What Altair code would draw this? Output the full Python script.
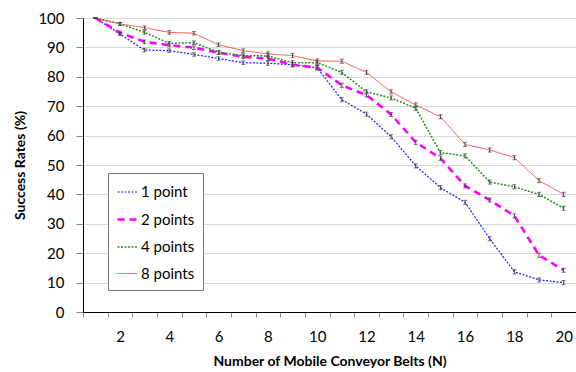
import altair as alt
import pandas as pd

belts = list(range(1, 21))
series_names = ["1 point", "2 points", "4 points", "8 points"]
one_point = [100, 94.5, 89.1, 88.9, 87.6, 86.2, 84.8, 84.6, 84.1, 83.1, 72.2, 67.3, 59.6, 49.7, 42.3, 37.3, 24.9, 13.7, 10.9, 10.0]
two_points = [100, 95.0, 91.9, 90.8, 89.9, 88.2, 86.8, 86.2, 84.1, 83.1, 77.1, 73.8, 67.2, 57.7, 52.3, 42.9, 38.1, 32.7, 19.3, 14.2]
four_points = [100, 98.0, 95.1, 91.4, 91.6, 88.3, 87.2, 87.1, 84.8, 84.8, 81.5, 74.9, 72.8, 69.3, 54.2, 53.1, 44.2, 42.6, 40.0, 35.3]
eight_points = [100, 98.0, 96.7, 95.1, 94.8, 90.9, 88.9, 87.8, 87.2, 85.4, 85.3, 81.5, 74.9, 70.4, 66.4, 57.0, 55.1, 52.5, 44.7, 40.0]
errors = [0.0, 0.5, 0.6, 0.6, 0.6, 0.6, 0.6, 0.7, 0.7, 0.7, 0.7, 0.7, 0.7, 0.7, 0.7, 0.7, 0.7, 0.7, 0.7, 0.7]
x_tick_marks = [i + 0.5 for i in range(0, 21)]
x_labels = list(range(2, 21, 2))
y_ticks = list(range(0, 101, 10))

colors = ["#1a1aff", "#ff00ff", "#1f8f1f", "#ff4d4d"]
dashes = [[2, 1.5], [7, 5], [2, 1.5], [1, 0]]
widths = [1.2, 2.6, 1.5, 1.0]

rows = []
for name, vals in zip(series_names, [one_point, two_points, four_points, eight_points]):
    for n, v, e in zip(belts, vals, errors):
        rows.append({"N": n, "rate": v, "series": name, "lo": v - e, "hi": v + e})
df = pd.DataFrame(rows)

FONT = "Lato"

xscale = alt.Scale(domain=[0.5, 20.5], nice=False, zero=False)
yscale = alt.Scale(domain=[0, 100], nice=False)

xaxis = alt.Axis(
    values=sorted(x_tick_marks + x_labels),
    tickCount=200,
    labelExpr="datum.value % 2 == 0 ? format(datum.value, 'd') : ''",
    tickOpacity={"condition": {"test": "datum.value % 1 != 0", "value": 1}, "value": 0},
    labelOverlap=False,
    title="Number of Mobile Conveyor Belts (N)",
    grid=False,
    domainColor="black",
    tickColor="#888888",
    tickSize=5,
    labelFontSize=15,
    labelPadding=12,
    titleFontSize=14,
    titleFontWeight="bold",
    titlePadding=10,
)

base = alt.Chart(df)

lines = base.mark_line().encode(
    x=alt.X("N:Q", scale=xscale, axis=xaxis),
    y=alt.Y("rate:Q", scale=yscale, axis=alt.Axis(
        values=y_ticks,
        tickCount=200,
        format="d",
        labelOverlap=False,
        title="Success Rates (%)",
        grid=True,
        gridColor="#d9d9d9",
        gridWidth=1.2,
        domainColor="black",
        tickColor="#888888",
        tickSize=7,
        labelFontSize=15,
        labelPadding=12,
        titleFontSize=14,
        titleFontWeight="bold",
        titlePadding=10,
    )),
    color=alt.Color("series:N", scale=alt.Scale(domain=series_names, range=colors),
                    legend=alt.Legend(
                        title=None, orient="none", legendX=25, legendY=155,
                        strokeColor="#777777", fillColor="white", padding=8,
                        symbolType="stroke", symbolSize=400,
                        labelFontSize=15, rowPadding=8, labelOffset=2,
                    )),
    strokeDash=alt.StrokeDash("series:N", scale=alt.Scale(domain=series_names, range=dashes)),
    strokeWidth=alt.StrokeWidth("series:N", scale=alt.Scale(type="ordinal", domain=series_names, range=widths)),
    detail="series:N",
)

bars = base.mark_rule(color="#444444", strokeWidth=1).encode(
    x="N:Q", y="lo:Q", y2="hi:Q"
)
caps_lo = base.mark_tick(color="#444444", orient="horizontal", size=4, thickness=1).encode(
    x="N:Q", y="lo:Q"
)
caps_hi = base.mark_tick(color="#444444", orient="horizontal", size=4, thickness=1).encode(
    x="N:Q", y="hi:Q"
)

chart = alt.layer(lines, bars, caps_lo, caps_hi).properties(
    width=493, height=294,
    autosize=alt.AutoSizeParams(type="none"),
    padding={"left": 83, "top": 18, "right": 0, "bottom": 60},
).configure(font=FONT).configure_view(stroke=None).configure_axis(
    labelColor="black", titleColor="black"
)

chart.save("out.html", embed_options={"renderer": "svg", "actions": False})
